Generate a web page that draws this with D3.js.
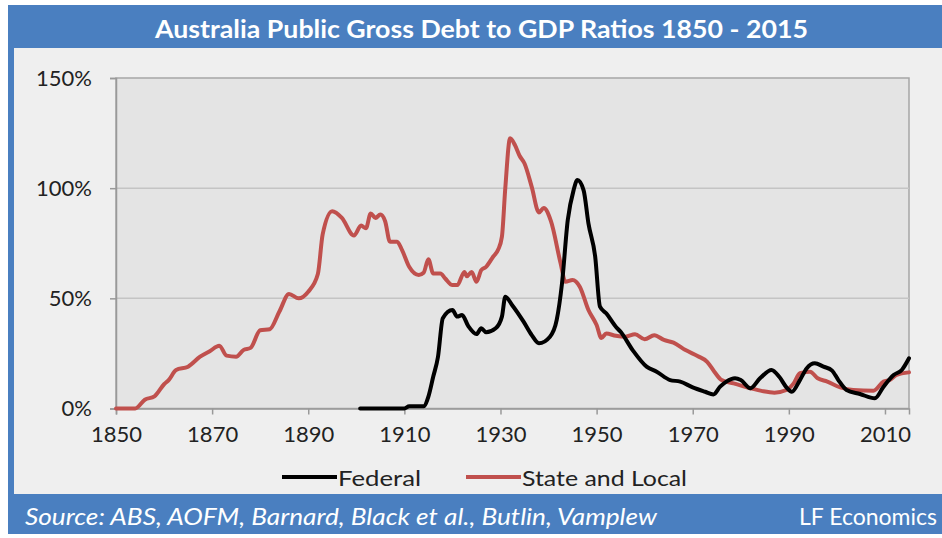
<!DOCTYPE html>
<html>
<head>
<meta charset="utf-8">
<script src="https://cdn.jsdelivr.net/npm/d3@7"></script>
<style>
  body { margin: 0; background: #fff; }
  svg { display: block; }
</style>
</head>
<body>
<div id="chart"></div>
<script>
// State and Local gross debt, % of GDP
const stateYears = [1850, 1854, 1856, 1858, 1860, 1861, 1862.5, 1865, 1867.5, 1869.5, 1871.5, 1873, 1875, 1876.5, 1878,
  1880, 1882, 1884, 1886, 1888, 1890, 1892, 1893, 1895, 1897, 1899.5, 1901, 1902, 1903, 1904, 1905, 1906, 1907, 1908.5,
  1909.5, 1911, 1913, 1914, 1915, 1916, 1917.5, 1918.5, 1920, 1921, 1922.5, 1923, 1924, 1925, 1926, 1927, 1928.5,
  1929.5, 1930.3, 1931, 1932, 1933, 1934, 1935, 1936.5, 1938, 1939, 1940.5, 1942.5, 1943.5, 1945, 1946.5, 1948.3,
  1950, 1951, 1952, 1954, 1956, 1958, 1960, 1962, 1964, 1966, 1968.5, 1971, 1973, 1974.5, 1976, 1978.5, 1982, 1984.5,
  1987, 1989.5, 1991, 1992.3, 1994.4, 1996, 1998, 2000.7, 2003.4, 2007.6, 2009.7, 2011, 2012.4, 2015];
const stateDebt = [0, 0, 4, 5.5, 11, 13, 17.5, 19, 23.5, 26, 28.5, 24, 23.5, 26.5, 27.5,
  35.5, 36, 44, 52, 50, 53, 61, 79, 89.5, 86.5, 78.5, 83, 81.8, 88.5, 86.5, 88, 85, 75.7, 75.7,
  72, 64.3, 60.6, 61.6, 67.7, 61.3, 61.3, 59, 56, 56, 62, 60, 62, 57.5, 62.8, 64.3, 69,
  72, 78, 100, 122.6, 119.6, 114.6, 111.2, 100.6, 89, 91, 85, 66, 57.5, 58.3, 55.3, 44.7,
  37.9, 32, 34, 33, 32.6, 33.7, 31.4, 33.3, 31.1, 29.9, 26.5, 23.8, 21.2, 16.7, 12.9, 11.4, 9.2, 7.9,
  7.2, 8.4, 11.4, 16, 16.7, 13.7, 12.2, 9.6, 8.4, 8.1, 12.2, 12.9, 15.2, 16.4];

// Federal gross debt, % of GDP
const fedYears = [1900.8, 1910, 1911, 1914, 1915, 1916, 1917, 1918, 1920, 1921, 1922, 1923.3, 1925, 1926, 1927, 1929,
  1930.3, 1931, 1932.4, 1934.8, 1936.5, 1938, 1940.3, 1941.7, 1942.8, 1944, 1945.2, 1946, 1947.3, 1948.3, 1949.7,
  1950.7, 1952, 1954, 1955, 1957.5, 1960.4, 1962.5, 1965.3, 1967.4, 1970, 1972.6, 1974.3, 1975.7, 1977, 1978.8, 1980,
  1982, 1984, 1986.4, 1988, 1989.5, 1990.6, 1992.3, 1993.7, 1995.4, 1997.2, 1999, 2000.3, 2002, 2004.8, 2007.9,
  2009.7, 2011.8, 2013.5, 2015];
const fedDebt = [0, 0, 1, 1, 5.4, 14.4, 23.5, 41, 44.7, 41.7, 42.4, 37.4, 33.8, 36.4, 34.6, 36.4,
  41.7, 50.7, 47, 39.4, 33.3, 29.6, 32.6, 40.2, 56.8, 85.5, 99, 103.7, 99, 84, 69,
  46.2, 43.2, 37.1, 34.8, 26.5, 19, 16.7, 12.9, 12.2, 9.6, 7.6, 6.4, 9.9, 12.2, 13.7, 12.9,
  9.2, 13.7, 17.5, 14.4, 9.6, 7.6, 12.9, 18.2, 20.5, 19, 17.2, 12.9, 8.4, 6.6, 4.6,
  9.9, 15.2, 17.5, 22.8];

const xTicks = [1850, 1870, 1890, 1910, 1930, 1950, 1970, 1990, 2010];
const yTicks = [0, 50, 100, 150];

const width = 942, height = 538;
const blue = "#4a7fc0";
const font = "Lato, 'Open Sans', sans-serif";

const svg = d3.select("#chart").append("svg")
  .attr("width", width)
  .attr("height", height);

// frame: blue box with title bar and footer, light panel inside
svg.append("rect").attr("x", 8).attr("y", 5).attr("width", 934).attr("height", 529).attr("fill", blue);
svg.append("rect").attr("x", 14).attr("y", 48).attr("width", 928).attr("height", 446).attr("fill", "#efefef");

// the original uses a condensed face, so texts are stretched to its widths
svg.append("text")
  .attr("x", 155).attr("y", 28)
  .attr("dominant-baseline", "central")
  .attr("textLength", 653).attr("lengthAdjust", "spacingAndGlyphs")
  .attr("fill", "#fff").attr("font-family", font).attr("font-weight", "bold").attr("font-size", 25)
  .text("Australia Public Gross Debt to GDP Ratios 1850 - 2015");

svg.append("text")
  .attr("x", 25).attr("y", 516)
  .attr("dominant-baseline", "central")
  .attr("textLength", 632).attr("lengthAdjust", "spacingAndGlyphs")
  .attr("fill", "#fff").attr("font-family", font).attr("font-style", "italic").attr("font-size", 23)
  .text("Source: ABS, AOFM, Barnard, Black et al., Butlin, Vamplew");

svg.append("text")
  .attr("x", 937).attr("y", 516)
  .attr("text-anchor", "end").attr("dominant-baseline", "central")
  .attr("fill", "#fff").attr("font-family", font).attr("font-size", 23)
  .text("LF Economics");

// plot area
const plot = { left: 116, right: 909, top: 78, bottom: 408.5 };

const x = d3.scaleLinear().domain([1850, 2015]).range([plot.left, plot.right]);
const y = d3.scaleLinear().domain([0, 150]).range([plot.bottom, plot.top]);

svg.append("rect")
  .attr("x", plot.left).attr("y", plot.top)
  .attr("width", plot.right - plot.left).attr("height", plot.bottom - plot.top)
  .attr("fill", "#e4e4e4").attr("stroke", "#a6a6a6").attr("stroke-width", 1.5);

// horizontal gridlines
svg.append("g")
  .selectAll("line")
  .data(yTicks.slice(1, -1))
  .join("line")
  .attr("x1", plot.left).attr("x2", plot.right)
  .attr("y1", d => y(d)).attr("y2", d => y(d))
  .attr("stroke", "#c4c4c4").attr("stroke-width", 1.5);

// axes
const yAxis = svg.append("g")
  .attr("transform", `translate(${plot.left},0)`)
  .call(d3.axisLeft(y).tickValues(yTicks).tickFormat(d => d + "%").tickSize(6).tickPadding(18));

const xAxis = svg.append("g")
  .attr("transform", `translate(0,${plot.bottom})`)
  .call(d3.axisBottom(x).tickValues(xTicks).tickFormat(d3.format("d")).tickSize(6).tickPadding(12));

[yAxis, xAxis].forEach(g => {
  g.select(".domain").attr("stroke", "#999").attr("stroke-width", 1.5);
  g.selectAll(".tick line").attr("stroke", "#999").attr("stroke-width", 1.5);
  g.selectAll(".tick text")
    .attr("fill", "#222").attr("font-family", font).attr("font-size", 22);
});

// series lines
const line = d3.line()
  .x(d => x(d[0]))
  .y(d => y(d[1]))
  .curve(d3.curveMonotoneX);

const series = [
  { name: "Federal", years: fedYears, values: fedDebt, color: "#000000", textW: 83 },
  { name: "State and Local", years: stateYears, values: stateDebt, color: "#c0504d", textW: 165 }
];

// state drawn first, federal on top
svg.append("g")
  .selectAll("path")
  .data(series.slice().reverse())
  .join("path")
  .attr("d", s => line(d3.zip(s.years, s.values)))
  .attr("fill", "none")
  .attr("stroke", s => s.color)
  .attr("stroke-width", 4)
  .attr("stroke-linejoin", "round")
  .attr("stroke-linecap", "round");

// legend
const legendX = [282, 466];
const legend = svg.append("g")
  .selectAll("g")
  .data(series)
  .join("g")
  .attr("transform", (s, i) => `translate(${legendX[i]},477)`);

legend.append("line")
  .attr("x1", 0).attr("x2", 55)
  .attr("stroke", s => s.color).attr("stroke-width", 4);

legend.append("text")
  .attr("x", 56).attr("dominant-baseline", "central")
  .attr("textLength", s => s.textW).attr("lengthAdjust", "spacingAndGlyphs")
  .attr("fill", "#222").attr("font-family", font).attr("font-size", 22)
  .text(s => s.name);
</script>
</body>
</html>
